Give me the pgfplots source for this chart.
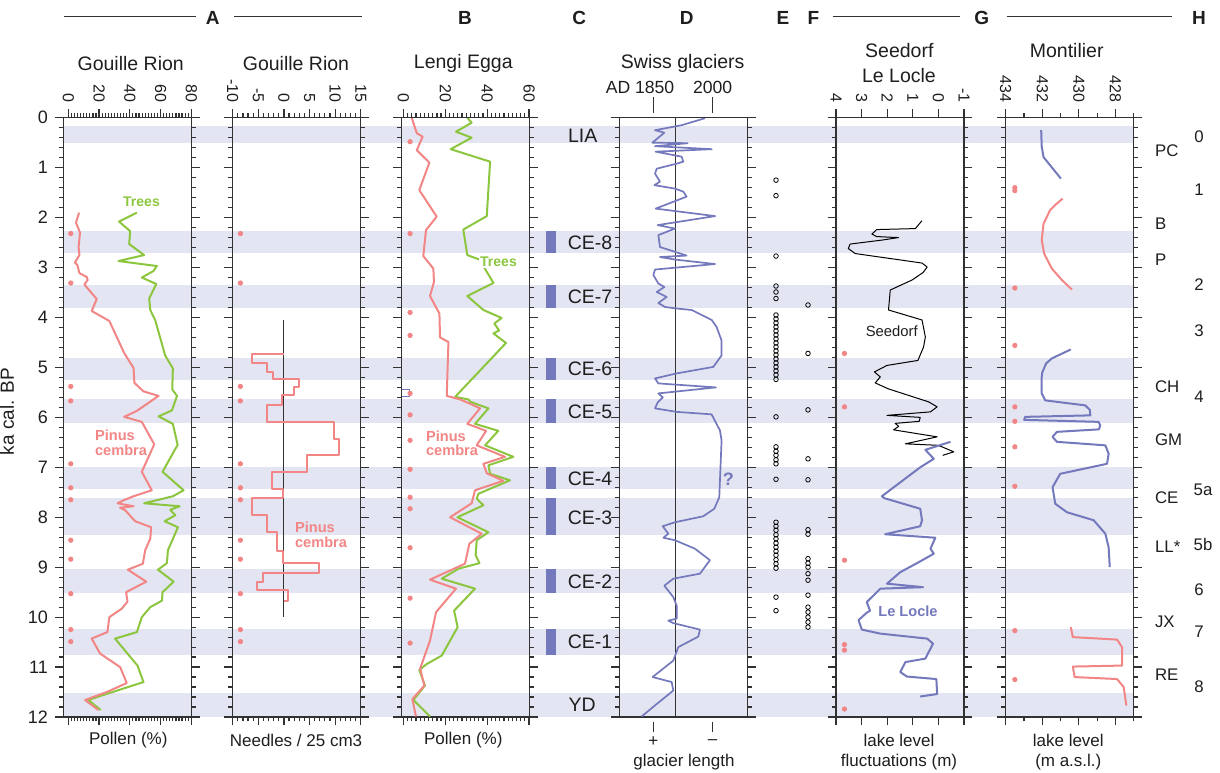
\documentclass[border=0pt]{standalone}
\usepackage{pgfplots}
\pgfplotsset{compat=1.18}
\usepackage{fontspec}
\setmainfont{Liberation Sans}

\definecolor{pinkc}{RGB}{242,134,134}
\definecolor{greenc}{RGB}{140,198,63}
\definecolor{bluec}{RGB}{116,120,188}
\definecolor{bandc}{RGB}{227,229,242}
\definecolor{axgray}{RGB}{50,50,50}
\definecolor{txt}{RGB}{30,30,30}

\newcommand{\fs}[1]{\fontsize{#1}{#1}\selectfont}
% label at pixel position of the reference (x right, y down)
\newcommand{\lab}[4][]{\node[text=txt,#1] at (#2*0.5pt,-#3*0.5pt) {#4};}

\pgfplotsset{
  /pgf/number format/assume math mode=true,
  panel/.style={
    scale only axis, anchor=north west,
    width=64pt, height=299.65pt,
    y dir=reverse, ymin=0, ymax=12,
    ytick={0,...,12}, minor y tick num=4,
    yticklabels={}, tick pos=both,
    tick align=outside,
    major tick length=4.2pt, minor tick length=2.2pt,
    axis line style={axgray, line width=0.65pt},
    tick style={axgray, line width=0.6pt},
    minor tick style={axgray, line width=0.6pt},
    xticklabel pos=right,
    xticklabel style={rotate=-90, anchor=east, font=\fs{8}, text=txt},
    yticklabel style={font=\fs{9}, text=txt},
    clip=false,
    extra description/.code={
      \draw[axgray, line width=0.65pt] (-0.065,1) -- (1.065,1);
    },
  },
  pline/.style={line width=1pt, line join=round},
  dots/.style={only marks, mark=*, mark size=1.1pt, pinkc, mark options={draw=none, fill=pinkc}},
}

\begin{document}
\begin{tikzpicture}
\useasboundingbox (0,0) rectangle (610pt,-386pt);

% ---------- background: bands, C column, circles, side labels ----------
\begin{axis}[scale only axis, anchor=north west, at={(31.65pt,-58.85pt)},
  width=535pt, height=299.65pt, xmin=63.3, xmax=1133.3,
  ymin=0, ymax=12, y dir=reverse, hide axis, clip=false]
\addplot[draw=none, fill=bandc] coordinates {(63.3,0.17)(1133.3,0.17)(1133.3,0.50)(63.3,0.50)};
\addplot[draw=none, fill=bandc] coordinates {(63.3,2.27)(1133.3,2.27)(1133.3,2.71)(63.3,2.71)};
\addplot[draw=none, fill=bandc] coordinates {(63.3,3.35)(1133.3,3.35)(1133.3,3.81)(63.3,3.81)};
\addplot[draw=none, fill=bandc] coordinates {(63.3,4.81)(1133.3,4.81)(1133.3,5.26)(63.3,5.26)};
\addplot[draw=none, fill=bandc] coordinates {(63.3,5.64)(1133.3,5.64)(1133.3,6.12)(63.3,6.12)};
\addplot[draw=none, fill=bandc] coordinates {(63.3,6.99)(1133.3,6.99)(1133.3,7.43)(63.3,7.43)};
\addplot[draw=none, fill=bandc] coordinates {(63.3,7.61)(1133.3,7.61)(1133.3,8.36)(63.3,8.36)};
\addplot[draw=none, fill=bandc] coordinates {(63.3,9.03)(1133.3,9.03)(1133.3,9.52)(63.3,9.52)};
\addplot[draw=none, fill=bandc] coordinates {(63.3,10.23)(1133.3,10.23)(1133.3,10.75)(63.3,10.75)};
\addplot[draw=none, fill=bandc] coordinates {(63.3,11.52)(1133.3,11.52)(1133.3,12.0)(63.3,12.0)};
% C bars
\addplot[draw=none, fill=bluec] coordinates {(545.7,2.27)(556,2.27)(556,2.71)(545.7,2.71)};
\addplot[draw=none, fill=bluec] coordinates {(545.7,3.35)(556,3.35)(556,3.81)(545.7,3.81)};
\addplot[draw=none, fill=bluec] coordinates {(545.7,4.81)(556,4.81)(556,5.26)(545.7,5.26)};
\addplot[draw=none, fill=bluec] coordinates {(545.7,5.64)(556,5.64)(556,6.12)(545.7,6.12)};
\addplot[draw=none, fill=bluec] coordinates {(545.7,6.99)(556,6.99)(556,7.43)(545.7,7.43)};
\addplot[draw=none, fill=bluec] coordinates {(545.7,7.61)(556,7.61)(556,8.36)(545.7,8.36)};
\addplot[draw=none, fill=bluec] coordinates {(545.7,9.03)(556,9.03)(556,9.52)(545.7,9.52)};
\addplot[draw=none, fill=bluec] coordinates {(545.7,10.23)(556,10.23)(556,10.75)(545.7,10.75)};
% E and F circles
\addplot[only marks, mark=o, mark size=1.15pt, mark options={black, line width=0.4pt}] coordinates {
 (776,1.25)(776,1.56)(776,2.77)(776,3.37)(776,3.49)(776,3.62)
 (776,3.95)(776,4.03)(776,4.11)(776,4.19)(776,4.27)(776,4.35)(776,4.43)(776,4.51)(776,4.59)
 (776,4.67)(776,4.75)(776,4.83)(776,4.91)(776,4.99)(776,5.07)(776,5.15)(776,5.24)(776,5.99)
 (776,6.59)(776,6.68)(776,6.76)(776,6.85)(776,6.93)(776,7.24)
 (776,8.10)(776,8.18)(776,8.26)(776,8.35)(776,8.43)(776,8.52)(776,8.60)(776,8.68)(776,8.76)
 (776,8.85)(776,8.93)(776,9.02)(776,9.60)(776,9.87)};
\addplot[only marks, mark=o, mark size=1.15pt, mark options={black, line width=0.4pt}] coordinates {
 (808,3.75)(808,4.72)(808,5.85)(808,6.83)(808,7.25)(808,8.25)(808,8.34)(808,8.83)(808,8.92)
 (808,9.00)(808,9.13)(808,9.26)(808,9.56)(808,9.80)(808,9.90)(808,10.00)(808,10.10)(808,10.20)};
% C labels
\begin{scope}[every node/.style={anchor=west, font=\fs{9.75}, text=txt}]
\node at (axis cs:561,0.37) {LIA};
\node at (axis cs:560.7,2.50) {CE-8};
\node at (axis cs:560.7,3.58) {CE-7};
\node at (axis cs:560.7,5.03) {CE-6};
\node at (axis cs:560.7,5.88) {CE-5};
\node at (axis cs:560.7,7.23) {CE-4};
\node at (axis cs:560.7,8.01) {CE-3};
\node at (axis cs:560.7,9.30) {CE-2};
\node at (axis cs:560.7,10.50) {CE-1};
\node at (axis cs:561.5,11.75) {YD};
\end{scope}
\begin{scope}[every node/.style={anchor=west, font=\fs{8.4}, text=txt}]
\node at (axis cs:1148,0.67) {PC};
\node at (axis cs:1148,2.12) {B};
\node at (axis cs:1148,2.85) {P};
\node at (axis cs:1148,5.39) {CH};
\node at (axis cs:1148,6.44) {GM};
\node at (axis cs:1148,7.60) {CE};
\node at (axis cs:1148,8.60) {LL*};
\node at (axis cs:1148,10.09) {JX};
\node at (axis cs:1148,11.15) {RE};
\end{scope}
\begin{scope}[every node/.style={anchor=center, font=\fs{8.4}, text=txt}]
\node at (axis cs:1199,0.38) {0};
\node at (axis cs:1199,1.44) {1};
\node at (axis cs:1199,3.34) {2};
\node at (axis cs:1199,4.27) {3};
\node at (axis cs:1199,5.59) {4};
\node at (axis cs:1203,7.46) {5a};
\node at (axis cs:1203,8.55) {5b};
\node at (axis cs:1199,9.46) {6};
\node at (axis cs:1199,10.30) {7};
\node at (axis cs:1199,11.39) {8};
\end{scope}
\end{axis}

% ---------- A1: Gouille Rion pollen ----------
\begin{axis}[panel, at={(31.65pt,-58.85pt)}, xmin=-3.26, xmax=80,
  xtick={0,20,40,60,80}, minor xtick={0,2,...,80},
  yticklabels={0,1,2,3,4,5,6,7,8,9,10,11,12}, yticklabel pos=left,
  ylabel={ka cal. BP}, ylabel style={font=\fs{9.5}, text=txt, at={(axis description cs:-0.33,0.51)}}]
\addplot[pline, greenc] coordinates {
 (44.6,1.90)(33,2.08)(40.2,2.27)(39.6,2.53)(49.3,2.75)(32.6,2.87)(57.6,2.97)(55.4,3.07)(47.8,3.20)
 (57.2,3.33)(52.6,3.62)(53.3,3.85)(56.5,4.05)(63,4.76)(68,5.02)(67.6,5.44)(70.7,5.57)(67.4,5.86)
 (58.7,5.98)(68,6.13)(71.1,6.55)(61.3,7.09)(75,7.46)(68,7.58)(49.3,7.72)(72.4,7.78)(66.3,7.85)
 (69.6,7.96)(62.6,8.08)(71.3,8.20)(64.8,8.66)(64.1,8.92)(58.3,9.05)(68.5,9.29)(61.3,9.50)
 (60.9,9.67)(53.3,9.80)(47.8,10.0)(44.6,10.30)(30.4,10.43)(45,10.97)(48.9,11.30)(21.7,11.57)
 (13,11.66)(21.1,11.86)};
\addplot[pline, pinkc] coordinates {
 (7,1.90)(5,2.10)(7.6,2.30)(6.7,2.59)(7.2,2.75)(4.3,2.90)(5.9,2.95)(7.2,3.11)(12,3.19)(12.6,3.25)
 (10.4,3.34)(18.5,3.63)(15.2,3.87)(26.7,4.07)(36.3,4.71)(42.4,5.01)(43,5.31)(48.9,5.48)(58.7,5.57)
 (44.6,5.87)(36.3,5.99)(47.8,6.09)(55.9,6.54)(47.8,7.09)(54.3,7.46)(42.4,7.58)(35.9,7.66)(32,7.72)
 (42.4,7.78)(33.7,7.81)(37,7.86)(43.5,8.08)(53.9,8.20)(53.3,8.43)(50,8.66)(48.5,8.93)(38.7,9.05)
 (50.7,9.29)(37.6,9.50)(38.5,9.69)(34.8,9.83)(26.7,10.0)(25.4,10.30)(15.2,10.43)(20.7,10.73)
 (33.7,11.0)(38,11.32)(25,11.50)(10.9,11.66)(19.6,11.86)};
\addplot[dots] coordinates {(1.6,2.32)(1.6,3.31)(1.6,5.38)(1.6,5.67)(1.6,6.93)(1.6,7.41)(1.6,7.65)
 (1.6,8.46)(1.6,8.84)(1.6,9.53)(1.6,10.25)(1.6,10.49)};
\end{axis}

% ---------- A2: Gouille Rion needles ----------
\begin{axis}[panel, at={(116.35pt,-58.85pt)}, xmin=-10, xmax=15,
  xtick={-10,-5,...,15}, minor xtick={-10,...,15}]
\addplot[axgray, line width=0.5pt] coordinates {(0,4.05)(0,10.0)};
\addplot[pline, pinkc] coordinates {
 (0,4.74)(-6.3,4.74)(-6.3,4.92)(-3.3,4.92)(-3.3,5.09)(-2.2,5.09)(-2.2,5.24)(2.9,5.24)(2.9,5.40)
 (1.9,5.40)(1.9,5.56)(-0.3,5.56)(-0.3,5.76)(-3.3,5.76)(-3.3,6.09)(9.7,6.09)(9.7,6.43)(10.8,6.43)
 (10.8,6.76)(4.5,6.76)(4.5,7.09)(-2.3,7.09)(-2.3,7.43)(-0.2,7.43)(-0.2,7.62)(-6.3,7.62)(-6.3,7.96)
 (-3.3,7.96)(-3.3,8.30)(-1.4,8.30)(-1.4,8.68)(-0.2,8.68)(-0.2,8.92)(6.8,8.92)(6.8,9.11)(-4.0,9.11)
 (-4.0,9.30)(-5.3,9.30)(-5.3,9.45)(0.8,9.45)(0.8,9.67)(0,9.67)};
\addplot[dots] coordinates {(-8.5,2.32)(-8.5,3.31)(-8.5,5.38)(-8.5,5.67)(-8.5,6.93)(-8.5,7.41)(-8.5,7.65)
 (-8.5,8.46)(-8.5,8.84)(-8.5,9.53)(-8.5,10.25)(-8.5,10.49)};
\end{axis}

% ---------- B: Lengi Egga ----------
\begin{axis}[panel, at={(200.85pt,-58.85pt)}, xmin=-0.8, xmax=60.3,
  xtick={0,20,40,60}, minor xtick={0,2,...,60}]
\addplot[bluec, line width=0.5pt] coordinates {(-0.8,5.45)(2.8,5.45)(2.8,5.59)(-0.8,5.59)};
\addplot[pline, greenc] coordinates {
 (30.5,0)(32.6,0.10)(25.1,0.28)(32.6,0.40)(22.6,0.63)(41.4,0.88)(39.8,1.97)(28.6,2.24)(30.5,2.75)
 (36.3,2.84)(43,3.31)(30.5,3.57)(38.2,3.85)(46.9,4.01)(43.4,4.12)(45.7,4.26)(43,4.32)(49,4.51)
 (24.7,5.59)(31,5.64)(32.1,5.69)(40.6,5.82)(34.2,6.13)(45.3,6.27)(39,6.56)(52.5,6.79)(40.6,6.96)
 (41.4,7.13)(50.9,7.26)(35.8,7.53)(35,7.63)(38.2,7.76)(25.8,8.0)(40.6,8.30)(35,8.46)(34.5,8.76)
 (36.3,8.92)(26.3,9.03)(18.3,9.23)(34.2,9.43)(24.2,9.87)(25.9,10.20)(18.3,10.77)(11.1,10.94)
 (7.6,11.06)(10.3,11.37)(4.8,11.66)(12.7,11.99)};
\addplot[pline, pinkc] coordinates {
 (4,0)(4.8,0.11)(6.4,0.31)(9.2,0.38)(6.4,0.65)(12.4,0.90)(7.6,1.45)(15.9,1.98)(10.8,2.25)(9.5,2.77)
 (14.3,3.02)(14.6,3.29)(12.7,3.57)(17.2,3.92)(17.5,4.40)(21.5,4.49)(20.7,5.57)(27,5.64)(31.5,5.72)
 (36.6,5.82)(30.5,6.13)(39.5,6.27)(35,6.56)(48.5,6.79)(38.2,6.93)(39.8,7.12)(47.7,7.27)(34.2,7.46)
 (32.6,7.72)(22.3,8.0)(37.4,8.33)(31.5,8.53)(29.4,8.93)(12.7,9.25)(25.1,9.43)(15.6,9.90)
 (12.7,10.47)(8,11.03)(10,11.37)(4.3,11.64)(6,11.99)};
\addplot[dots] coordinates {(3.2,0.48)(3.2,2.32)(3.2,3.90)(3.2,4.36)(3.2,5.52)(3.2,5.95)(3.2,6.46)
 (3.2,7.04)(3.2,7.60)(3.2,7.83)(3.2,8.61)(3.2,9.62)(3.2,10.52)};
\end{axis}

% ---------- D: Swiss glaciers ----------
\begin{axis}[panel, at={(309.65pt,-58.85pt)}, xmin=0, xmax=100, xtick=\empty]
\addplot[axgray, line width=0.5pt] coordinates {(44,0)(44,12)};
\addplot[bluec, line width=0.85pt, line join=round] coordinates {
 (67,0.01)(48.7,0.15)(27.9,0.25)(35.2,0.30)(25.8,0.50)(53.4,0.51)(27.9,0.57)(72.2,0.63)(28.4,0.68)
 (48.7,0.78)(50,0.88)(44.8,0.92)(29.2,1.02)(27.9,1.12)(31.8,1.28)(27.4,1.35)(43.5,1.42)(50,1.48)
 (52.6,1.58)(28.4,1.82)(74.8,1.97)(30,2.15)(43.5,2.22)(30.5,2.35)(31.8,2.59)(52.6,2.76)(31.8,2.79)
 (43.5,2.84)(74.8,2.93)(27.9,3.04)(26.6,3.15)(30.5,3.32)(35.2,3.39)(29.2,3.49)(37,3.59)(30.5,3.71)
 (35.7,3.79)(44.8,3.82)(56.5,3.85)(72.2,4.05)(76,4.19)(79.9,4.46)(79.9,4.76)(73.4,4.99)(44.8,5.12)
 (27.9,5.22)(30.5,5.32)(75.5,5.40)(30.5,5.52)(34,5.60)(30,5.70)(27.9,5.82)(44.8,5.89)(72.1,5.94)
 (78.6,6.26)(79.9,6.46)(78.1,7.60)(74.2,7.83)(65.6,7.98)(43.5,8.10)(33.9,8.18)(38.3,8.33)(34.4,8.41)
 (43.5,8.46)(59.1,8.63)(70.8,8.86)(63,9.13)(42.2,9.23)(35.2,9.37)(42.2,9.60)(44.8,9.77)(44.8,10.03)
 (38.3,10.07)(42.2,10.12)(63,10.25)(61.7,10.39)(46.1,10.60)(42.2,10.87)(26,11.20)(40.9,11.30)
 (42.2,11.47)(29.2,11.74)(17.4,11.99)};
\draw[axgray, line width=0.6pt] (axis cs:26.6,-0.41) -- (axis cs:26.6,-0.09);
\draw[axgray, line width=0.6pt] (axis cs:73,-0.41) -- (axis cs:73,-0.09);
\draw[axgray, line width=0.6pt] (axis cs:26.6,12.09) -- (axis cs:26.6,12.29);
\draw[axgray, line width=0.6pt] (axis cs:73,12.09) -- (axis cs:73,12.29);
\end{axis}

% ---------- Seedorf / Le Locle ----------
\begin{axis}[panel, at={(418pt,-58.85pt)}, x dir=reverse, xmin=-1, xmax=4,
  xtick={-1,0,1,2,3,4}]
\addplot[black, line width=0.5pt, line join=round] coordinates {
 (0.64,2.06)(0.90,2.22)(2.41,2.24)(2.60,2.33)(2.41,2.38)(1.56,2.40)(2.2,2.45)(3.45,2.53)(3.52,2.62)
 (3.25,2.72)(0.64,2.91)(0.44,2.99)(0.6,3.10)(1.03,3.25)(1.88,3.45)(1.95,3.85)(0.64,4.05)(0.51,4.39)
 (0.58,4.59)(0.80,4.86)(2.01,4.96)(2.50,5.09)(2.27,5.19)(2.47,5.31)(1.95,5.43)(0.38,5.69)(0.05,5.79)
 (0.31,5.89)(2.01,5.96)(0.71,6.0)(0.75,6.08)(1.69,6.12)(1.55,6.18)(1.75,6.25)(0.05,6.39)(1.29,6.53)
 (0.0,6.56)(-0.6,6.69)(-0.17,6.76)};
\addplot[bluec, line width=1pt, line join=round] coordinates {
 (-0.47,6.49)(0.51,6.65)(0.18,6.83)(0.71,7.0)(2.21,7.58)(2.1,7.62)(0.71,7.83)(0.64,8.06)(0.71,8.18)
 (2.08,8.34)(0.12,8.41)(0.31,8.63)(0.18,8.73)(0.84,8.92)(1.49,9.10)(2.01,9.33)(0.60,9.40)(2.27,9.43)
 (2.80,9.70)(2.67,9.87)(2.82,9.92)(3.12,10.06)(2.99,10.25)(2.27,10.33)(0.44,10.43)(0.21,10.53)
 (0.51,10.83)(1.29,10.90)(1.49,11.10)(1.23,11.19)(0.08,11.24)(0.05,11.54)(0.71,11.59)};
\addplot[dots] coordinates {(3.67,4.72)(3.67,5.79)(3.67,8.86)(3.67,10.55)(3.67,10.66)(3.67,11.84)};
\end{axis}

% ---------- Montilier ----------
\begin{axis}[panel, at={(502.85pt,-58.85pt)}, x dir=reverse, xmin=427, xmax=434,
  xtick={428,430,432,434}, minor xtick={427,...,434},
  xticklabel style={/pgf/number format/1000 sep={}}]
\addplot[bluec, line width=1pt, line join=round] coordinates {
 (432.06,0.25)(432.03,0.58)(431.93,0.79)(430.98,1.22)};
\addplot[pinkc, line width=1pt, line join=round] coordinates {
 (430.89,1.62)(431.3,1.75)(431.57,1.85)(431.93,2.12)(432.03,2.45)(431.9,2.72)(431.48,3.02)
 (430.93,3.25)(430.38,3.44)};
\addplot[bluec, line width=1pt, line join=round] coordinates {
 (430.44,4.64)(430.9,4.72)(431.48,4.82)(431.79,4.92)(432.0,5.1)(432.03,5.19)(432.03,5.52)(431.84,5.66)
 (429.65,5.76)(429.4,5.85)(429.37,5.96)(432.94,5.99)(432.99,6.05)(428.92,6.09)(428.83,6.16)
 (428.9,6.24)(431.2,6.29)(431.44,6.39)(431.2,6.49)(428.55,6.56)(428.37,6.73)(428.46,6.93)
 (431.02,7.13)(431.44,7.40)(431.29,7.73)(430.65,7.90)(429.19,8.06)(428.55,8.33)(428.37,8.60)
 (428.31,9.00)};
\addplot[pinkc, line width=1pt, line join=round] coordinates {
 (430.44,10.20)(430.33,10.40)(427.91,10.45)(427.64,10.60)(427.64,10.97)(430.33,10.99)(430.23,11.20)
 (427.91,11.24)(427.55,11.40)(427.4,11.77)};
\addplot[dots] coordinates {(433.5,1.40)(433.5,1.46)(433.5,3.41)(433.5,4.56)(433.5,5.79)(433.5,6.08)
 (433.5,6.59)(433.5,7.38)(433.5,10.27)(433.5,11.25)};
\end{axis}

% ---------- headers and texts ----------
\draw[axgray, line width=0.5pt] (64*0.5pt,-16.7*0.5pt) -- (196*0.5pt,-16.7*0.5pt);
\draw[axgray, line width=0.5pt] (234*0.5pt,-16.7*0.5pt) -- (361.7*0.5pt,-16.7*0.5pt);
\draw[axgray, line width=0.5pt] (832.7*0.5pt,-16.7*0.5pt) -- (960*0.5pt,-16.7*0.5pt);
\draw[axgray, line width=0.5pt] (1006.7*0.5pt,-16.7*0.5pt) -- (1171.7*0.5pt,-16.7*0.5pt);
\lab[font=\fs{9.5}\bfseries]{212.7}{18.3}{A}
\lab[font=\fs{9.5}\bfseries]{465}{18.3}{B}
\lab[font=\fs{9.5}\bfseries]{579.3}{18.3}{C}
\lab[font=\fs{9.5}\bfseries]{686.7}{18.3}{D}
\lab[font=\fs{9.5}\bfseries]{783}{18.3}{E}
\lab[font=\fs{9.5}\bfseries]{813.3}{18.3}{F}
\lab[font=\fs{9.5}\bfseries]{981.7}{18.3}{G}
\lab[font=\fs{9.5}\bfseries]{1199}{18.3}{H}

\lab[font=\fs{9.75}]{130.7}{63.3}{Gouille Rion}
\lab[font=\fs{9.75}]{296}{63.3}{Gouille Rion}
\lab[font=\fs{9.75}]{463.3}{63.3}{Lengi Egga}
\lab[font=\fs{9.75}]{682.7}{63.3}{Swiss glaciers}
\lab[font=\fs{8.8}]{640}{87.3}{AD 1850}
\lab[font=\fs{8.8}]{712.7}{87.3}{2000}
\lab[font=\fs{9.75}]{899.3}{50.7}{Seedorf}
\lab[font=\fs{9.75}]{899}{76}{Le Locle}
\lab[font=\fs{9.75}]{1066.7}{50.7}{Montilier}

\lab[font=\fs{8.5}]{128.3}{740}{Pollen (\%)}
\lab[font=\fs{8.5}]{296}{740}{Needles / 25 cm3}
\lab[font=\fs{8.5}]{463.3}{740}{Pollen (\%)}
\lab[font=\fs{8.5}]{653.3}{741.7}{+}
\lab[font=\fs{8.5}]{712.7}{741.7}{--}
\lab[font=\fs{8.5}]{684}{761.7}{glacier length}
\lab[font=\fs{8.5}]{899}{740}{lake level}
\lab[font=\fs{8.5}]{899}{761.7}{fluctuations (m)}
\lab[font=\fs{8.5}]{1068.3}{740}{lake level}
\lab[font=\fs{8.5}]{1068.3}{761.7}{(m a.s.l.)}

\lab[font=\fs{7}\bfseries, text=greenc]{141.5}{201.7}{Trees}
\lab[font=\fs{7.3}\bfseries, text=pinkc, anchor=west]{88}{435}{Pinus}
\lab[font=\fs{7.3}\bfseries, text=pinkc, anchor=west]{88}{450}{cembra}
\lab[font=\fs{7.3}\bfseries, text=pinkc, anchor=west]{288}{527}{Pinus}
\lab[font=\fs{7.3}\bfseries, text=pinkc, anchor=west]{288}{542}{cembra}
\lab[font=\fs{7}\bfseries, text=greenc, fill=white, inner sep=0.6pt]{498.5}{262}{Trees}
\lab[font=\fs{7.3}\bfseries, text=pinkc, anchor=west]{419}{436}{Pinus}
\lab[font=\fs{7.3}\bfseries, text=pinkc, anchor=west]{419}{450}{cembra}
\lab[font=\fs{9}\bfseries, text=bluec]{728.3}{479.3}{?}
\lab[font=\fs{7.4}]{891.7}{331.7}{Seedorf}
\lab[font=\fs{7.3}\bfseries, text=bluec]{908}{611}{Le Locle}
\end{tikzpicture}
\end{document}
